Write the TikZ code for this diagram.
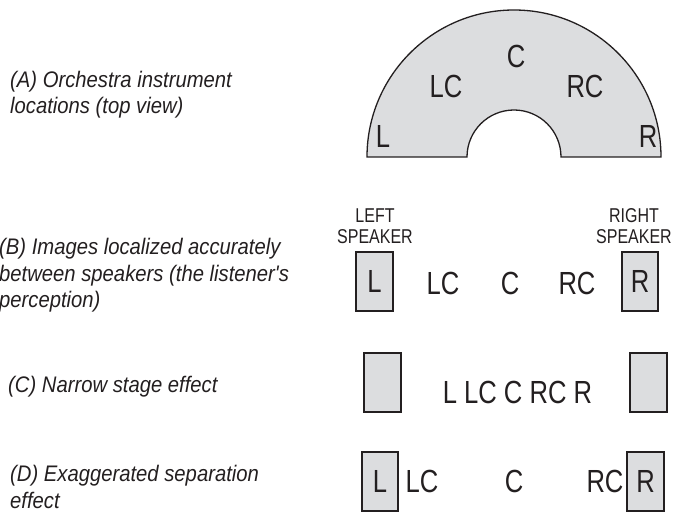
\documentclass[tikz,border=0pt]{standalone}
\usepackage{fontspec}
\setmainfont{Liberation Sans}
\newfontfamily\capfont[FakeStretch=0.8]{Liberation Sans}
\newfontfamily\descfont[FakeStretch=0.9]{Liberation Sans Italic}
\definecolor{ink}{HTML}{231F20}
\definecolor{panel}{HTML}{DCDDDF}
\tikzset{
  desc/.style={anchor=base west, align=left, inner sep=0pt, text=ink,
    font=\descfont\fontsize{22.5}{26.5}\selectfont},
  big/.style={anchor=base, inner sep=0pt, text=ink,
    font=\capfont\fontsize{32}{38}\selectfont},
  small/.style={align=center, inner sep=0pt, text=ink,
    font=\capfont\fontsize{20}{21}\selectfont},
  spk/.style={draw=ink, fill=panel, line width=1.3pt, minimum height=59pt,
    inner sep=0pt, text=ink, font=\capfont\fontsize{32}{38}\selectfont},
}
\begin{document}
\begin{tikzpicture}[x=1pt, y=-1pt]
\useasboundingbox (0,0) rectangle (673,513);

% left descriptions (anchored at the baseline of the last line)
\node[desc] (da) at (10,114) {(A) Orchestra instrument\\locations (top view)};
\node[desc] (db) at (-1,308) {(B) Images localized accurately\\between speakers (the listener's\\perception)};
\node[desc] (dc) at (8,393) {(C) Narrow stage effect};
\node[desc] (dd) at (10,508) {(D) Exaggerated separation\\effect};

% (A) orchestra arch
\draw[draw=ink, fill=panel, line width=1.3pt]
  (367,157) arc[start angle=180, end angle=360, radius=147]
  -- (561,157) arc[start angle=0, end angle=-180, radius=47] -- cycle;
\node[big] (aL)  at (383,148) {L};
\node[big] (aLC) at (446,98)  {LC};
\node[big] (aC)  at (516,68)  {C};
\node[big] (aRC) at (585,98)  {RC};
\node[big] (aR)  at (648,148) {R};

% (B) accurate imaging
\node[small] (lspk) at (375,226) {LEFT\\SPEAKER};
\node[small] (rspk) at (634,226) {RIGHT\\SPEAKER};
\node[spk, minimum width=37pt] (bL) at (374.5,281.5) {L};
\node[spk, minimum width=36pt] (bR) at (640,281.5) {R};
\node[big] (bLC) at (443,295) {LC};
\node[big] (bC)  at (510,295) {C};
\node[big] (bRC) at (577,295) {RC};

% (C) narrow stage
\node[spk, minimum width=37pt] (cL) at (382.5,382.5) {};
\node[spk, minimum width=37pt] (cR) at (648.5,382.5) {};
\node[big] (cT) at (517.5,403) {L LC C RC R};

% (D) exaggerated separation
\node[spk, minimum width=36pt] (dL) at (380,481.5) {L};
\node[spk, minimum width=37pt] (dR) at (645.5,481.5) {R};
\node[big] (dLC) at (422,493) {LC};
\node[big] (dC)  at (514,493) {C};
\node[big] (dRC) at (605,493) {RC};
\end{tikzpicture}
\end{document}
